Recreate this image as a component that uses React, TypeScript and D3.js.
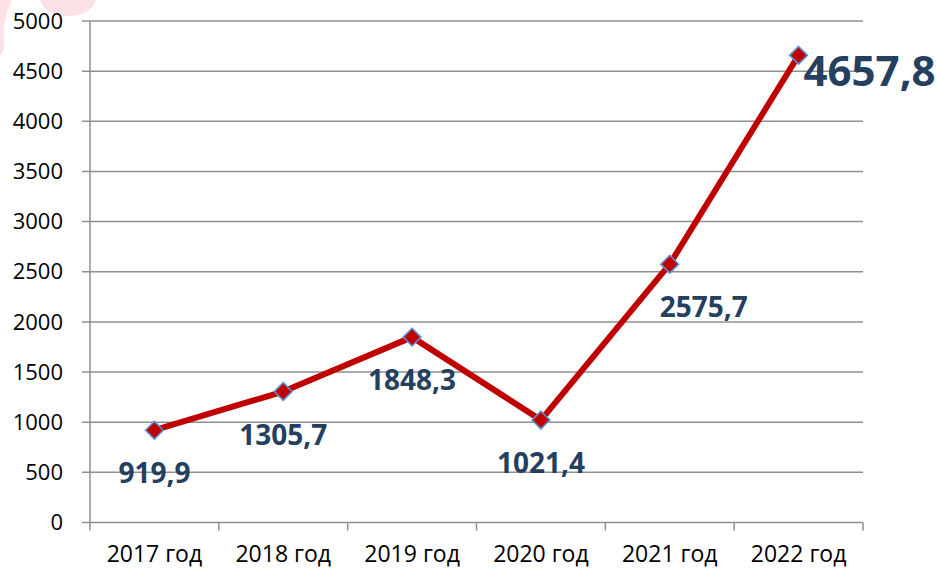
import React from "react";
import * as d3 from "d3";

const categories = ["2017 год", "2018 год", "2019 год", "2020 год", "2021 год", "2022 год"];
const values = [919.9, 1305.7, 1848.3, 1021.4, 2575.7, 4657.8];
const valueLabels = ["919,9", "1305,7", "1848,3", "1021,4", "2575,7", "4657,8"];
const yTicks = [0, 500, 1000, 1500, 2000, 2500, 3000, 3500, 4000, 4500, 5000];

const W = 937;
const H = 568;
const M = { left: 90, right: 863, top: 21, bottom: 522.5 };
const FONT = "'Open Sans', 'Noto Sans', 'DejaVu Sans', sans-serif";
const GRID = "#8f8f8f";
const LABEL = "#243F60";

export default function App() {
  const x = d3.scaleBand<string>().domain(categories).range([M.left, M.right]).paddingInner(0).paddingOuter(0);
  const y = d3.scaleLinear().domain([0, 5000]).range([M.bottom, M.top]);
  const cx = (c: string) => (x(c) ?? 0) + x.bandwidth() / 2;

  const line = d3
    .line<number>()
    .x((_, i) => cx(categories[i]))
    .y((v) => y(v));

  const boundaries = categories.map((c) => x(c) ?? 0).concat([M.right]);
  const diamond = d3.symbol().type(d3.symbolDiamond2).size(200)();

  return (
    <div style={{ position: "absolute", left: 0, top: 0 }}>
      <svg width={W} height={H} style={{ display: "block" }}>
        <rect width={W} height={H} fill="#fff" />
        {/* faint logo fragment in corner */}
        <path d="M 12 0 Q 2 20 4 40 Q 5 50 0 56 L 0 0 Z" fill="#fbe1e5" />
        <path d="M 40 0 L 96 0 Q 92 14 70 16 Q 46 16 40 0 Z" fill="#fbe1e5" />

        {/* gridlines */}
        {yTicks.map((t) => (
          <line key={t} x1={M.left - 8} x2={M.right} y1={y(t)} y2={y(t)} stroke={GRID} strokeWidth={1.5} />
        ))}
        {/* y axis */}
        <line x1={M.left} x2={M.left} y1={M.top} y2={M.bottom} stroke={GRID} strokeWidth={1.5} />
        {yTicks.map((t) => (
          <text key={"yt" + t} x={63} y={y(t)} dy="0.35em" textAnchor="end" fontFamily={FONT} fontSize={22} fill="#000">
            {t}
          </text>
        ))}
        {/* x axis ticks */}
        {boundaries.map((b, i) => (
          <line key={"xt" + i} x1={b} x2={b} y1={M.bottom} y2={M.bottom + 8} stroke={GRID} strokeWidth={1.5} />
        ))}
        {categories.map((c) => (
          <text key={c} x={cx(c)} y={562} textAnchor="middle" fontFamily={FONT} fontSize={23} fill="#000">
            {c}
          </text>
        ))}

        {/* line */}
        <path d={line(values) ?? ""} fill="none" stroke="#C00000" strokeWidth={6} strokeLinejoin="round" />
        {values.map((v, i) => (
          <path
            key={"m" + i}
            d={diamond ?? ""}
            transform={`translate(${cx(categories[i])},${y(v)})`}
            fill="#C00000"
            stroke="#5B8FD0"
            strokeWidth={1.6}
          />
        ))}

        {/* data labels */}
        {values.map((v, i) => {
          const px = cx(categories[i]);
          const py = y(v);
          const last = i === values.length - 1;
          if (last) {
            return (
              <text key={"l" + i} x={px + 5} y={py + 31} textAnchor="start" fontFamily={FONT} fontWeight="bold" fontSize={42} fill={LABEL}>
                {valueLabels[i]}
              </text>
            );
          }
          const dx = i === 4 ? 34 : 0;
          return (
            <text key={"l" + i} x={px + dx} y={py + 53} textAnchor="middle" fontFamily={FONT} fontWeight="bold" fontSize={28} fill={LABEL}>
              {valueLabels[i]}
            </text>
          );
        })}
      </svg>
    </div>
  );
}
